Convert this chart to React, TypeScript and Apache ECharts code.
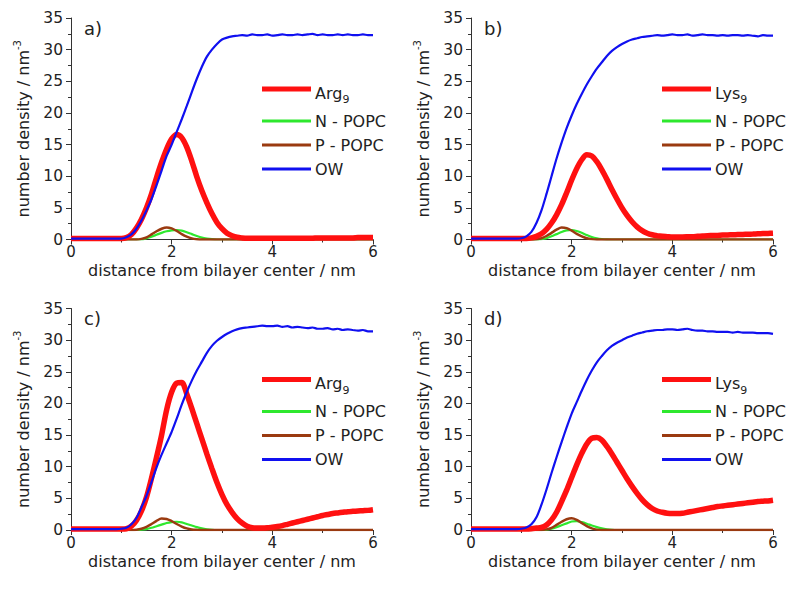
import React, { useEffect, useRef } from 'react';
import * as echarts from 'echarts';

// x grid: 0.0 .. 6.0 nm in 0.1 steps (61 points)
const X: number[] = Array.from({ length: 61 }, (_, i) => i / 10);

const X_TICKS = [0, 2, 4, 6];
const Y_TICKS = [0, 5, 10, 15, 20, 25, 30, 35];

// ---------- panel a) Arg9 ----------
const OW_A = [
  0.15, 0.15, 0.15, 0.15, 0.15, 0.15, 0.15, 0.15, 0.15, 0.15,
  0.15, 0.35, 0.8, 1.7, 3.0, 4.6, 6.4, 8.6, 10.9, 13.2,
  15.0, 17.0, 19.0, 21.1, 23.3, 25.4, 27.3, 28.9, 30.0, 30.9,
  31.6, 31.9, 32.1, 32.2, 32.3, 32.2, 32.4, 32.3, 32.3, 32.4,
  32.2, 32.3, 32.4, 32.3, 32.3, 32.4, 32.3, 32.4, 32.5, 32.3,
  32.4, 32.3, 32.3, 32.4, 32.3, 32.4, 32.3, 32.3, 32.4, 32.3,
  32.3,
];
const ARG_A = [
  0.15, 0.15, 0.15, 0.15, 0.15, 0.15, 0.15, 0.15, 0.15, 0.15,
  0.15, 0.3, 0.8, 1.8, 3.2, 5.0, 7.2, 9.8, 12.2, 14.3,
  15.9, 16.6, 16.1, 14.6, 12.4, 9.9, 7.7, 5.8, 4.1, 2.7,
  1.7, 1.0, 0.6, 0.35, 0.25, 0.2, 0.2, 0.2, 0.2, 0.2,
  0.2, 0.2, 0.2, 0.2, 0.2, 0.2, 0.2, 0.2, 0.2, 0.25,
  0.25, 0.25, 0.25, 0.25, 0.25, 0.25, 0.25, 0.3, 0.3, 0.3,
  0.3,
];
const N_A = [
  0, 0, 0, 0, 0, 0, 0, 0, 0, 0,
  0, 0, 0, 0, 0, 0.2, 0.45, 0.75, 1.05, 1.3,
  1.45, 1.5, 1.4, 1.15, 0.85, 0.55, 0.3, 0.15, 0.05, 0,
  0, 0, 0, 0, 0, 0, 0, 0, 0, 0,
  0, 0, 0, 0, 0, 0, 0, 0, 0, 0,
  0, 0, 0, 0, 0, 0, 0, 0, 0, 0,
  0,
];
const P_A = [
  0, 0, 0, 0, 0, 0, 0, 0, 0, 0,
  0, 0, 0, 0, 0.1, 0.35, 0.8, 1.3, 1.7, 1.9,
  1.75, 1.35, 0.85, 0.45, 0.18, 0.05, 0, 0, 0, 0,
  0, 0, 0, 0, 0, 0, 0, 0, 0, 0,
  0, 0, 0, 0, 0, 0, 0, 0, 0, 0,
  0, 0, 0, 0, 0, 0, 0, 0, 0, 0,
  0,
];

// ---------- panel b) Lys9 ----------
const OW_B = [
  0.15, 0.15, 0.15, 0.15, 0.15, 0.15, 0.15, 0.15, 0.15, 0.15,
  0.2, 0.5, 1.2, 2.6, 4.6, 7.2, 10.0, 12.8, 15.3, 17.6,
  19.6, 21.4, 23.0, 24.5, 25.8, 27.0, 28.0, 29.0, 29.8, 30.4,
  30.9, 31.3, 31.6, 31.8, 32.0, 32.1, 32.2, 32.3, 32.2, 32.3,
  32.4, 32.3, 32.3, 32.4, 32.2, 32.3, 32.4, 32.3, 32.3, 32.2,
  32.3, 32.2, 32.3, 32.3, 32.2, 32.3, 32.2, 32.1, 32.3, 32.2,
  32.2,
];
const LYS_B = [
  0.15, 0.15, 0.15, 0.15, 0.15, 0.15, 0.15, 0.15, 0.15, 0.15,
  0.15, 0.15, 0.25, 0.5, 0.9, 1.6, 2.6, 3.9, 5.5, 7.4,
  9.4, 11.2, 12.6, 13.4, 13.2, 12.3, 11.0, 9.5, 7.9, 6.4,
  5.0, 3.8, 2.8, 2.0, 1.4, 1.0, 0.75, 0.6, 0.5, 0.45,
  0.4, 0.4, 0.4, 0.42, 0.45, 0.5, 0.55, 0.6, 0.62, 0.65,
  0.7, 0.72, 0.75, 0.78, 0.8, 0.83, 0.86, 0.9, 0.93, 0.96,
  1.0,
];
const N_B = [
  0, 0, 0, 0, 0, 0, 0, 0, 0, 0,
  0, 0, 0, 0, 0.05, 0.2, 0.5, 0.85, 1.2, 1.45,
  1.5, 1.35, 1.05, 0.7, 0.4, 0.2, 0.08, 0.02, 0, 0,
  0, 0, 0, 0, 0, 0, 0, 0, 0, 0,
  0, 0, 0, 0, 0, 0, 0, 0, 0, 0,
  0, 0, 0, 0, 0, 0, 0, 0, 0, 0,
  0,
];
const P_B = [
  0, 0, 0, 0, 0, 0, 0, 0, 0, 0,
  0, 0, 0, 0.05, 0.2, 0.55, 1.05, 1.55, 1.9, 1.8,
  1.4, 0.9, 0.5, 0.2, 0.06, 0, 0, 0, 0, 0,
  0, 0, 0, 0, 0, 0, 0, 0, 0, 0,
  0, 0, 0, 0, 0, 0, 0, 0, 0, 0,
  0, 0, 0, 0, 0, 0, 0, 0, 0, 0,
  0,
];

// ---------- panel c) Arg9 ----------
const OW_C = [
  0.15, 0.15, 0.15, 0.15, 0.15, 0.15, 0.15, 0.15, 0.15, 0.15,
  0.2, 0.35, 0.9, 1.9, 3.6, 5.4, 7.6, 9.9, 11.9, 13.7,
  15.5, 17.6, 19.8, 21.8, 23.6, 25.2, 26.6, 28.0, 29.1, 29.9,
  30.5, 31.0, 31.4, 31.7, 31.9, 32.0, 32.1, 32.2, 32.3, 32.2,
  32.2, 32.3, 32.1, 32.2, 32.0, 32.1, 32.0, 31.9, 32.0, 31.8,
  31.8, 31.9, 31.7, 31.8, 31.6, 31.7, 31.6, 31.5, 31.6, 31.4,
  31.4,
];
const ARG_C = [
  0.15, 0.15, 0.15, 0.15, 0.15, 0.15, 0.15, 0.15, 0.15, 0.15,
  0.15, 0.2, 0.6, 1.5, 3.0, 5.2, 8.2, 11.5, 15.0, 19.0,
  21.8, 23.2, 23.3, 21.5, 19.2, 16.8, 14.4, 12.0, 9.7, 7.5,
  5.6, 4.0, 2.8, 1.8, 1.1, 0.6, 0.35, 0.3, 0.3, 0.35,
  0.45, 0.55, 0.7, 0.9, 1.1, 1.3, 1.5, 1.7, 1.9, 2.1,
  2.3, 2.45, 2.6, 2.7, 2.8, 2.9, 2.95, 3.0, 3.05, 3.1,
  3.2,
];
const N_C = [
  0, 0, 0, 0, 0, 0, 0, 0, 0, 0,
  0, 0, 0, 0, 0.05, 0.15, 0.35, 0.6, 0.85, 1.1,
  1.25, 1.3, 1.2, 0.95, 0.7, 0.45, 0.25, 0.12, 0.04, 0,
  0, 0, 0, 0, 0, 0, 0, 0, 0, 0,
  0, 0, 0, 0, 0, 0, 0, 0, 0, 0,
  0, 0, 0, 0, 0, 0, 0, 0, 0, 0,
  0,
];
const P_C = [
  0, 0, 0, 0, 0, 0, 0, 0, 0, 0,
  0, 0, 0, 0.05, 0.2, 0.5, 0.95, 1.45, 1.8, 1.75,
  1.4, 0.95, 0.55, 0.25, 0.08, 0.02, 0, 0, 0, 0,
  0, 0, 0, 0, 0, 0, 0, 0, 0, 0,
  0, 0, 0, 0, 0, 0, 0, 0, 0, 0,
  0, 0, 0, 0, 0, 0, 0, 0, 0, 0,
  0,
];

// ---------- panel d) Lys9 ----------
const OW_D = [
  0.15, 0.15, 0.15, 0.15, 0.15, 0.15, 0.15, 0.15, 0.15, 0.15,
  0.2, 0.4, 0.9, 2.0, 4.0, 6.4, 9.0, 11.5, 13.9, 16.2,
  18.4, 20.2, 22.0, 23.7, 25.2, 26.5, 27.5, 28.4, 29.1, 29.6,
  30.0, 30.4, 30.7, 31.0, 31.2, 31.4, 31.5, 31.6, 31.6, 31.7,
  31.7, 31.6, 31.7, 31.8, 31.6, 31.5, 31.5, 31.4, 31.4, 31.3,
  31.3, 31.3, 31.2, 31.3, 31.2, 31.2, 31.2, 31.1, 31.1, 31.1,
  31.0,
];
const LYS_D = [
  0.15, 0.15, 0.15, 0.15, 0.15, 0.15, 0.15, 0.15, 0.15, 0.15,
  0.15, 0.15, 0.2, 0.3, 0.4, 0.8, 1.6, 2.8, 4.5, 6.3,
  8.3, 10.3, 12.1, 13.6, 14.5, 14.6, 14.2, 13.2, 12.0, 10.7,
  9.4, 8.1, 6.9, 5.8, 4.8, 4.0, 3.4, 3.0, 2.8, 2.65,
  2.6, 2.6, 2.65, 2.8, 2.95, 3.1, 3.25, 3.4, 3.55, 3.7,
  3.8, 3.9, 4.0, 4.1, 4.2, 4.3, 4.4, 4.5, 4.55, 4.6,
  4.7,
];
const N_D = [
  0, 0, 0, 0, 0, 0, 0, 0, 0, 0,
  0, 0, 0, 0, 0, 0.05, 0.2, 0.45, 0.75, 1.05,
  1.35, 1.4, 1.25, 1.0, 0.7, 0.45, 0.25, 0.12, 0.04, 0,
  0, 0, 0, 0, 0, 0, 0, 0, 0, 0,
  0, 0, 0, 0, 0, 0, 0, 0, 0, 0,
  0, 0, 0, 0, 0, 0, 0, 0, 0, 0,
  0,
];
const P_D = [
  0, 0, 0, 0, 0, 0, 0, 0, 0, 0,
  0, 0, 0, 0, 0, 0.1, 0.35, 0.8, 1.3, 1.7,
  1.85, 1.6, 1.1, 0.6, 0.25, 0.06, 0, 0, 0, 0,
  0, 0, 0, 0, 0, 0, 0, 0, 0, 0,
  0, 0, 0, 0, 0, 0, 0, 0, 0, 0,
  0, 0, 0, 0, 0, 0, 0, 0, 0, 0,
  0,
];

const PANEL_LABELS = ['a)', 'b)', 'c)', 'd)'];
const PEPTIDES = ['Arg', 'Lys', 'Arg', 'Lys'];
const LEGEND_NAMES = ['N - POPC', 'P - POPC', 'OW'];

const FONT = 'DejaVu Sans';
const TEXT = '#222';
const AXIS = '#333';
const RED = '#ff1010';
const GREEN = '#2ee82e';
const BROWN = '#9a3a10';
const BLUE = '#1010f0';

const panels = [
  { left: 71, top: 18, main: ARG_A, ow: OW_A, n: N_A, p: P_A },
  { left: 471, top: 18, main: LYS_B, ow: OW_B, n: N_B, p: P_B },
  { left: 71, top: 308.5, main: ARG_C, ow: OW_C, n: N_C, p: P_C },
  { left: 471, top: 308.5, main: LYS_D, ow: OW_D, n: N_D, p: P_D },
];
const GRID_W = 302;
const GRID_H = 221.5;

const pts = (vals: number[]) => vals.map((v, i) => [X[i], v]);

function buildOption() {
  const grid: any[] = [];
  const xAxis: any[] = [];
  const yAxis: any[] = [];
  const series: any[] = [];
  const graphic: any[] = [];

  panels.forEach((pn, k) => {
    grid.push({ left: pn.left, top: pn.top, width: GRID_W, height: GRID_H });
    xAxis.push({
      type: 'value', gridIndex: k, min: X_TICKS[0], max: X_TICKS[X_TICKS.length - 1],
      interval: X_TICKS[1] - X_TICKS[0],
      name: 'distance from bilayer center / nm', nameLocation: 'middle', nameGap: 23,
      nameTextStyle: { fontFamily: FONT, fontSize: 16, color: TEXT },
      axisLine: { show: true, lineStyle: { color: AXIS, width: 1 } },
      axisTick: { show: true, inside: false, length: 5, lineStyle: { color: AXIS } },
      minorTick: { show: true, splitNumber: 2, length: 3, lineStyle: { color: AXIS } },
      axisLabel: { fontFamily: FONT, fontSize: 15, color: TEXT, margin: 5 },
      splitLine: { show: false },
    });
    yAxis.push({
      type: 'value', gridIndex: k, min: Y_TICKS[0], max: Y_TICKS[Y_TICKS.length - 1],
      interval: Y_TICKS[1] - Y_TICKS[0],
      name: '{a|number density / nm}{s|-3}', nameLocation: 'middle', nameGap: 37,
      nameTextStyle: {
        fontFamily: FONT, fontSize: 16, color: TEXT,
        rich: {
          a: { fontFamily: FONT, fontSize: 16, color: TEXT, lineHeight: 22 },
          s: { fontFamily: FONT, fontSize: 10, color: TEXT, verticalAlign: 'top', lineHeight: 22 },
        },
      },
      axisLine: { show: true, lineStyle: { color: AXIS, width: 1 } },
      axisTick: { show: true, inside: false, length: 5, lineStyle: { color: AXIS } },
      minorTick: { show: true, splitNumber: 2, length: 3, lineStyle: { color: AXIS } },
      axisLabel: { fontFamily: FONT, fontSize: 15.5, color: TEXT, margin: 8 },
      splitLine: { show: false },
    });

    const common = { type: 'line', xAxisIndex: k, yAxisIndex: k, showSymbol: false, symbol: 'none', smooth: 0.3 };
    series.push({ ...common, name: 'N - POPC', data: pts(pn.n), lineStyle: { color: GREEN, width: 2.2 }, itemStyle: { color: GREEN } });
    series.push({ ...common, name: 'P - POPC', data: pts(pn.p), lineStyle: { color: BROWN, width: 2.5 }, itemStyle: { color: BROWN } });
    series.push({ ...common, name: PEPTIDES[k] + '9', data: pts(pn.main), lineStyle: { color: RED, width: 5.5 }, itemStyle: { color: RED } });
    series.push({ ...common, name: 'OW', data: pts(pn.ow), lineStyle: { color: BLUE, width: 2.2 }, itemStyle: { color: BLUE } });

    // panel label
    graphic.push({
      type: 'text', left: pn.left + 13, top: pn.top + 1,
      style: { text: PANEL_LABELS[k], fontFamily: FONT, fontSize: 18, fill: TEXT },
    });

    // legend
    const lx1 = pn.left + 191;
    const lx2 = pn.left + 240;
    const tx = pn.left + 244;
    const rows = [71, 103, 127, 151];
    const colors = [RED, GREEN, BROWN, BLUE];
    const widths = [5, 3, 3, 3];
    rows.forEach((dy, r) => {
      const y = pn.top + dy;
      graphic.push({
        type: 'line', shape: { x1: lx1, y1: y, x2: lx2, y2: y },
        style: { stroke: colors[r], lineWidth: widths[r] },
      });
      if (r === 0) {
        graphic.push({
          type: 'text', x: tx, y: y + 4,
          style: {
            text: '{a|' + PEPTIDES[k] + '}{s|9}',
            verticalAlign: 'middle', align: 'left',
            rich: {
              a: { fontFamily: FONT, fontSize: 16, fill: TEXT, color: TEXT, lineHeight: 24 },
              s: { fontFamily: FONT, fontSize: 11, fill: TEXT, color: TEXT, lineHeight: 24, verticalAlign: 'bottom' },
            },
          },
        });
      } else {
        graphic.push({
          type: 'text', x: tx, y,
          style: {
            text: LEGEND_NAMES[r - 1], fontFamily: FONT, fontSize: 16, fill: TEXT,
            verticalAlign: 'middle', align: 'left',
          },
        });
      }
    });
  });

  return {
    animation: false,
    backgroundColor: '#ffffff',
    textStyle: { fontFamily: FONT },
    grid, xAxis, yAxis, series, graphic,
  };
}

export default function App() {
  const ref = useRef<HTMLDivElement>(null);
  useEffect(() => {
    if (!ref.current) return;
    const chart = echarts.init(ref.current, null, { renderer: 'svg' });
    chart.setOption(buildOption() as any);
    return () => chart.dispose();
  }, []);
  return <div ref={ref} style={{ position: 'fixed', left: 0, top: 0, width: 800, height: 589 }} />;
}
